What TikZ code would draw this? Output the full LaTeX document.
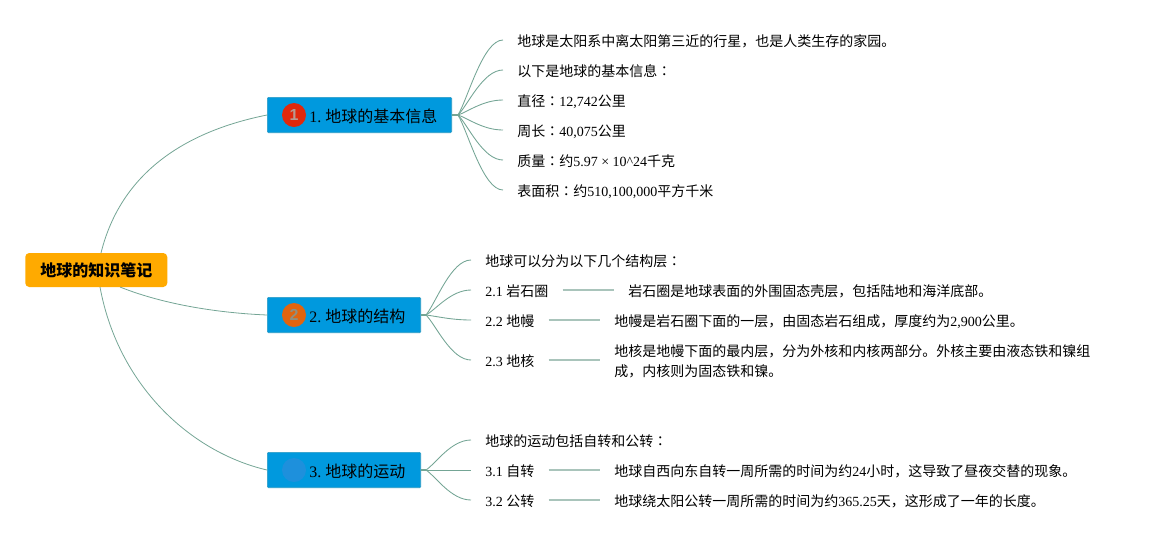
\documentclass[tikz,border=0pt]{standalone}
\usepackage{fontspec}
\usetikzlibrary{calc}
\setmainfont{Liberation Serif}
\setsansfont{Liberation Sans}
\newfontfamily\cjk{Noto Sans CJK SC}
\newfontfamily\cjkcolon{Noto Sans CJK TC}
\newcommand{\zh}[1]{{\cjk #1}}
\newcommand{\cln}{{\cjkcolon ：}}
\frenchspacing
\definecolor{linkc}{HTML}{74A595}
\definecolor{linkl}{HTML}{A9C4BB}
\definecolor{branchc}{HTML}{0099DE}
\definecolor{branche}{HTML}{2A9BC4}
\definecolor{rootc}{HTML}{FFAA00}
\definecolor{badgea}{HTML}{E0280C}
\definecolor{badgeb}{HTML}{E0640F}
\definecolor{badgec}{HTML}{1E90DC}
\definecolor{digita}{HTML}{B89A90}
\definecolor{digitb}{HTML}{8F8F80}
\tikzset{
  x=0.75pt,y=-0.75pt,
  rootbox/.style={fill=rootc,rounded corners=3pt,anchor=west,minimum width=106.5pt,minimum height=25.5pt,inner sep=0pt,text height=11.5pt,text depth=1.5pt,font=\fontsize{12}{14}\selectfont\bfseries},
  branchbox/.style={fill=branchc,draw=branche,line width=0.5pt,rounded corners=0.8pt,anchor=west,minimum height=26.5pt,inner xsep=0pt,inner ysep=0pt,align=left,text height=12pt,text depth=1.5pt,font=\fontsize{12}{14}\selectfont},
  badge/.style={circle,minimum size=18pt,inner sep=0pt,font=\fontsize{12}{14}\selectfont\bfseries\sffamily},
  leaftext/.style={anchor=west,inner xsep=10.5pt,inner ysep=0pt,text height=11pt,text depth=1.5pt,font=\fontsize{10.5}{15}\selectfont},
  desctext/.style={anchor=west,inner xsep=10.5pt,inner ysep=0pt,align=left,font=\fontsize{10.5}{15}\selectfont},
  rootlink/.style={draw=linkc,line width=0.6pt},
  stem/.style={draw=linkc,line width=1.2pt},
  fan/.style={draw=linkc,line width=0.65pt},
  straightlink/.style={draw=linkl,line width=1.2pt},
}
\begin{document}
\begin{tikzpicture}
\useasboundingbox (0,0) rectangle (1174,540);
% root and branches
\node[rootbox] (root) at (25,270) {\zh{地球的知识笔记}};
\node[branchbox,text width=138.25pt] (b1) at (267,115) {\hspace*{31.5pt}1.\hspace{3pt}\zh{地球的基本信息}};
\node[branchbox,text width=115pt] (b2) at (267,315) {\hspace*{31.5pt}2.\hspace{3pt}\zh{地球的结构}};
\node[branchbox,text width=115pt] (b3) at (267,470) {\hspace*{31.5pt}3.\hspace{3pt}\zh{地球的运动}};
\node[badge,fill=badgea,text=digita] (i1) at (294,115) {1};
\node[badge,fill=badgeb,text=digitb] (i2) at (294,315) {2};
\node[badge,fill=badgec] (i3) at (294,470) {};
% root links
\coordinate (r1) at (101,253);
\coordinate (r2) at (120,287);
\coordinate (r3) at (100,287);
\draw[rootlink] (r1) .. controls (122,168) and (192,130) .. (b1.west);
\draw[rootlink] (r2) .. controls (165,305) and (220,313) .. (b2.west);
\draw[rootlink] (r3) .. controls (118,385) and (190,452) .. (b3.west);
% branch 1 leaves
\node[leaftext] (a1) at (503,40) {\zh{地球是太阳系中离太阳第三近的行星，也是人类生存的家园。}};
\node[leaftext] (a2) at (503,70) {\zh{以下是地球的基本信息}\cln};
\node[leaftext] (a3) at (503,100) {\zh{直径}\cln 12,742\zh{公里}};
\node[leaftext] (a4) at (503,130) {\zh{周长}\cln 40,075\zh{公里}};
\node[leaftext] (a5) at (503,160) {\zh{质量}\cln\zh{约}5.97 × 10\^{}24\zh{千克}};
\node[leaftext] (a6) at (503,190) {\zh{表面积}\cln\zh{约}510,100,000\zh{平方千米}};
% branch 2 leaves
\node[leaftext] (c0) at (471,260) {\zh{地球可以分为以下几个结构层}\cln};
\node[leaftext] (c1) at (471,290) {2.1 \zh{岩石圈}};
\node[leaftext] (c2) at (471,320) {2.2 \zh{地幔}};
\node[leaftext] (c3) at (471,360) {2.3 \zh{地核}};
\node[leaftext] (d1) at (614,290) {\zh{岩石圈是地球表面的外围固态壳层，包括陆地和海洋底部。}};
\node[leaftext] (d2) at (600,320) {\zh{地幔是岩石圈下面的一层，由固态岩石组成，厚度约为}2,900\zh{公里。}};
\node[desctext] (d3) at (600,361) {\zh{地核是地幔下面的最内层，分为外核和内核两部分。外核主要由液态铁和镍组}\\\zh{成，内核则为固态铁和镍。}};
% branch 3 leaves
\node[leaftext] (e0) at (471,440) {\zh{地球的运动包括自转和公转}\cln};
\node[leaftext] (e1) at (471,470) {3.1 \zh{自转}};
\node[leaftext] (e2) at (471,500) {3.2 \zh{公转}};
\node[leaftext] (f1) at (600,470) {\zh{地球自西向东自转一周所需的时间为约}24\zh{小时，这导致了昼夜交替的现象。}};
\node[leaftext] (f2) at (600,500) {\zh{地球绕太阳公转一周所需的时间为约}365.25\zh{天，这形成了一年的长度。}};
% stems
\coordinate (s1) at (458,115);
\coordinate (s2) at (426,315);
\coordinate (s3) at (426,470);
\draw[stem] (b1.east) -- (s1);
\draw[stem] (b2.east) -- (s2);
\draw[stem] (b3.east) -- (s3);
% fans
\foreach \n in {a1,a2,a3,a4,a5,a6} \draw[fan] (s1) .. controls ($(s1)!0.22!(\n.west)$) and ($(\n.west)+(-20,0)$) .. (\n.west);
\foreach \n in {c0,c1,c2,c3} \draw[fan] (s2) .. controls ($(s2)!0.22!(\n.west)$) and ($(\n.west)+(-20,0)$) .. (\n.west);
\foreach \n in {e0,e1,e2} \draw[fan] (s3) .. controls ($(s3)!0.22!(\n.west)$) and ($(\n.west)+(-20,0)$) .. (\n.west);
% second level
\draw[straightlink] (c1.east) -- (d1.west);
\draw[straightlink] (c2.east) -- (d2.west);
\draw[straightlink] (c3.east) -- (d3.west |- c3.east);
\draw[straightlink] (e1.east) -- (f1.west);
\draw[straightlink] (e2.east) -- (f2.west);
\end{tikzpicture}
\end{document}
